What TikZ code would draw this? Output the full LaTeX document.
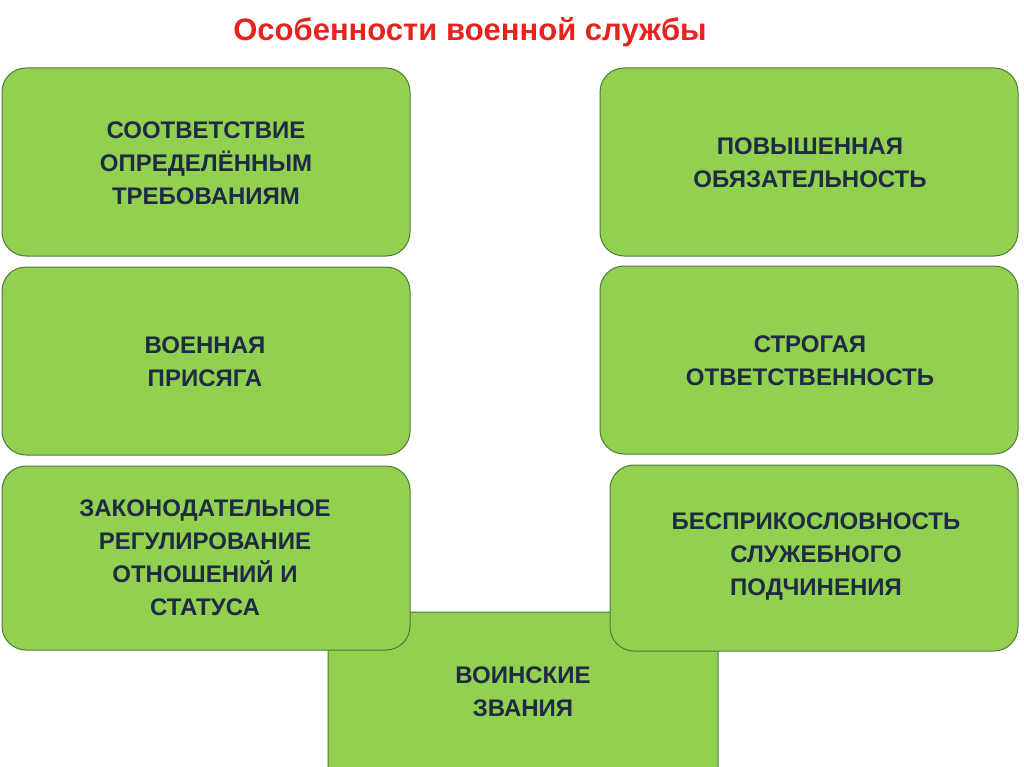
\documentclass[tikz,border=0pt]{standalone}
\usepackage{fontspec}
\setmainfont{Liberation Sans}
\definecolor{boxg}{HTML}{92D050}
\definecolor{boxb}{HTML}{4E7A3C}
\definecolor{txt}{HTML}{1F2A44}
\definecolor{ttl}{HTML}{E8231E}
\begin{document}
\begin{tikzpicture}[x=1pt,y=-1pt,
  gbox/.style={fill=boxg,draw=boxb,line width=1pt,rounded corners=24pt},
  lbl/.style={align=center,text=txt,font=\fontsize{24}{33}\selectfont\bfseries}]
\useasboundingbox (0,0) rectangle (1024,767);
\fill[white] (0,0) rectangle (1024,767);
\node[text=ttl,font=\fontsize{31}{36}\selectfont\bfseries] (title) at (470,32) {Особенности военной службы};
\begin{scope}
\clip (0,0) rectangle (1024,767);
\draw[gbox] (328,800) -- (328,612) -- (718,612) -- (718,800) -- cycle;
\end{scope}
\node[lbl] (b7) at (523,692) {ВОИНСКИЕ\\ЗВАНИЯ};
\draw[gbox] (2,68) rectangle (410,256);
\node[lbl] (b1) at (206,163) {СООТВЕТСТВИЕ\\ОПРЕДЕЛЁННЫМ\\ТРЕБОВАНИЯМ};
\draw[gbox] (600,68) rectangle (1018,256);
\node[lbl] (b2) at (810,163) {ПОВЫШЕННАЯ\\ОБЯЗАТЕЛЬНОСТЬ};
\draw[gbox] (2,267) rectangle (410,455);
\node[lbl] (b3) at (205,362) {ВОЕННАЯ\\ПРИСЯГА};
\draw[gbox] (600,266) rectangle (1018,454);
\node[lbl] (b4) at (810,361) {СТРОГАЯ\\ОТВЕТСТВЕННОСТЬ};
\draw[gbox] (2,466) rectangle (410,650);
\node[lbl] (b5) at (205,558) {ЗАКОНОДАТЕЛЬНОЕ\\РЕГУЛИРОВАНИЕ\\ОТНОШЕНИЙ И\\СТАТУСА};
\draw[gbox] (610,465) rectangle (1018,651);
\node[lbl] (b6) at (816,557) {БЕСПРИКОСЛОВНОСТЬ\\СЛУЖЕБНОГО\\ПОДЧИНЕНИЯ};
\end{tikzpicture}
\end{document}
